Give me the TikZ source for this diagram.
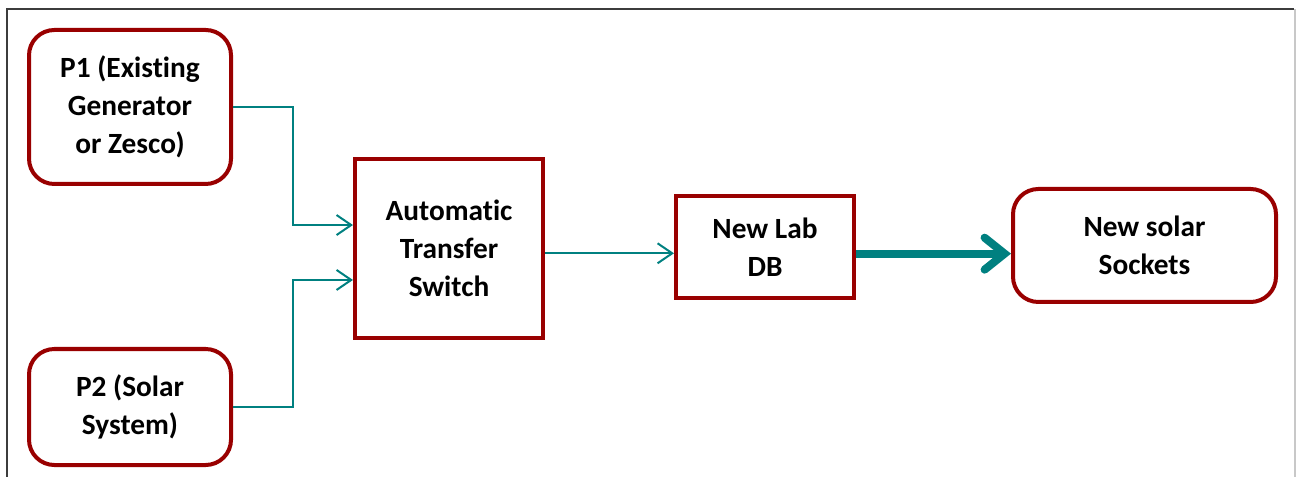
\documentclass[tikz,border=0pt]{standalone}
\usepackage{fontspec}
\setmainfont[Ligatures=NoCommon]{Carlito}
\usetikzlibrary{arrows.meta,positioning}
\definecolor{maroon}{RGB}{153,0,0}
\definecolor{tealline}{RGB}{0,128,128}
\definecolor{framegray}{RGB}{60,60,60}
\definecolor{framepale}{RGB}{200,200,200}

\begin{document}
\begin{tikzpicture}[x=0.75pt,y=-0.75pt,
  every node/.style={font=\fontsize{22}{28.5}\selectfont\bfseries,align=center},
  roundbox/.style={draw=maroon,line width=3pt,rounded corners=19pt},
  plainbox/.style={draw=maroon,line width=3pt},
  feed/.style={tealline,line width=1.5pt,-{Straight Barb[length=11pt,width=15pt]}},
  mainfeed/.style={tealline,line width=6pt,-{Straight Barb[length=15pt,width=24pt,line cap=round]}}]
  \useasboundingbox (0,0) rectangle (1296,477);
  % outer frame
  \draw[framegray,line width=1.5pt] (7,477) -- (7,9) -- (1294,9);
  \draw[framepale,line width=1pt] (1295,9) -- (1295,477);
  % sources
  \node[roundbox,minimum width=151.5pt,minimum height=115.5pt] (p1) at (130,107) {P1 (Existing\\Generator\\or Zesco)};
  \node[roundbox,minimum width=151.5pt,minimum height=87pt] (p2) at (130,407) {P2 (Solar\\System)};
  % switch and distribution
  \node[plainbox,minimum width=141pt,minimum height=134.25pt] (ats) at (449,248.5) {Automatic\\Transfer\\Switch};
  \node[plainbox,minimum width=133.5pt,minimum height=76.5pt] (db) at (765,247) {New Lab\\DB};
  \node[roundbox,minimum width=197.25pt,minimum height=84.75pt] (sockets) at (1144.5,245.5) {New solar\\Sockets};
  % connectors
  \draw[feed] (p1.east) -- ++(60,0) |- ([yshift=17.6pt]ats.west);
  \draw[feed] (p2.east) -- ++(60,0) |- ([yshift=-23.6pt]ats.west);
  \draw[feed] ([yshift=-3.6pt]ats.east) -- ([yshift=-3.6pt]ats.east -| db.west);
  \draw[mainfeed] ([yshift=-5pt]db.east) -- ([yshift=-5pt]db.east -| sockets.west);
\end{tikzpicture}
\end{document}
